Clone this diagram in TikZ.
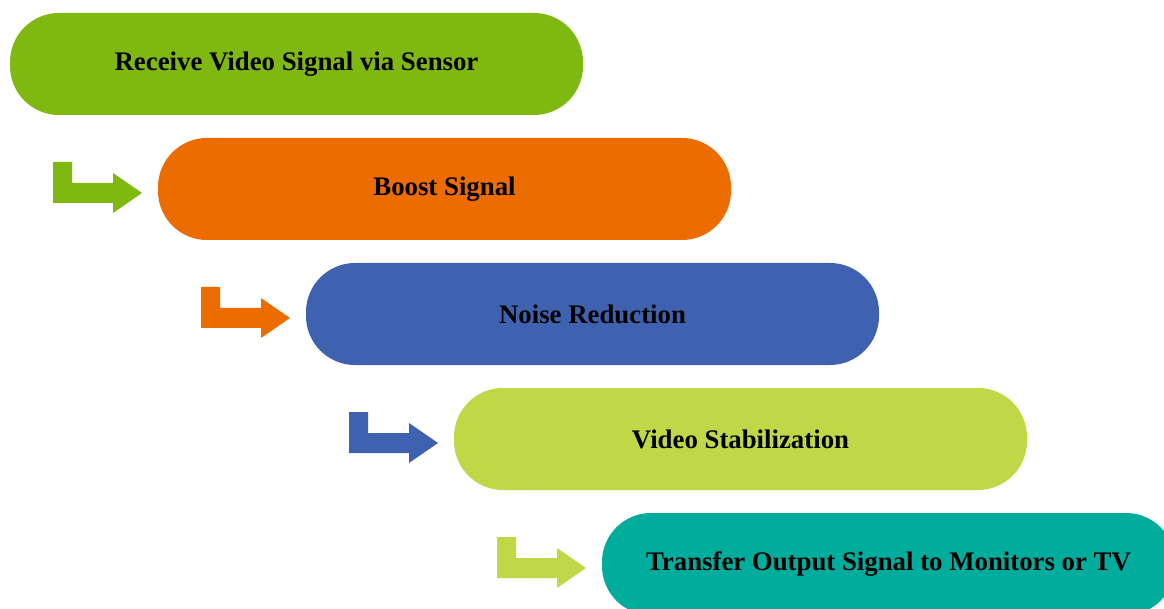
\documentclass[tikz,border=0pt]{standalone}
\usepackage{fontspec}
\setmainfont{Liberation Serif}
\definecolor{cA}{RGB}{127,184,16}
\definecolor{cB}{RGB}{236,108,0}
\definecolor{cC}{RGB}{63,98,176}
\definecolor{cD}{RGB}{192,216,70}
\definecolor{cE}{RGB}{0,172,156}
\tikzset{
  stagebox/.style={rectangle, rounded corners=49pt, minimum width=573pt, minimum height=102pt,
    inner sep=0pt, font=\fontsize{26.8}{30}\selectfont\bfseries, text=black},
  bentarrow/.pic={\fill (0,0) -- (19,0) -- (19,21) -- (60,21) -- (60,11) -- (89,31) -- (60,51) -- (60,41) -- (0,41) -- cycle;}
}
\begin{document}
\begin{tikzpicture}[x=1pt,y=-1pt]
\useasboundingbox (0,0) rectangle (1164,609);
\fill[white] (0,0) rectangle (1164,609);
\clip (0,0) rectangle (1164,609);
\node[stagebox, fill=cA] (s1) at (296.5,64) {Receive Video Signal via Sensor};
\node[stagebox, fill=cB] (s2) at (444.5,189) {Boost Signal};
\node[stagebox, fill=cC] (s3) at (592.5,314) {Noise Reduction};
\node[stagebox, fill=cD] (s4) at (740.5,439) {Video Stabilization};
\node[stagebox, fill=cE] (s5) at (888.5,564) {Transfer Output Signal to Monitors or TV};
\pic[cA] at (53,162) {bentarrow};
\pic[cB] at (201,287) {bentarrow};
\pic[cC] at (349,412) {bentarrow};
\pic[cD] at (497,537) {bentarrow};
\end{tikzpicture}
\end{document}
